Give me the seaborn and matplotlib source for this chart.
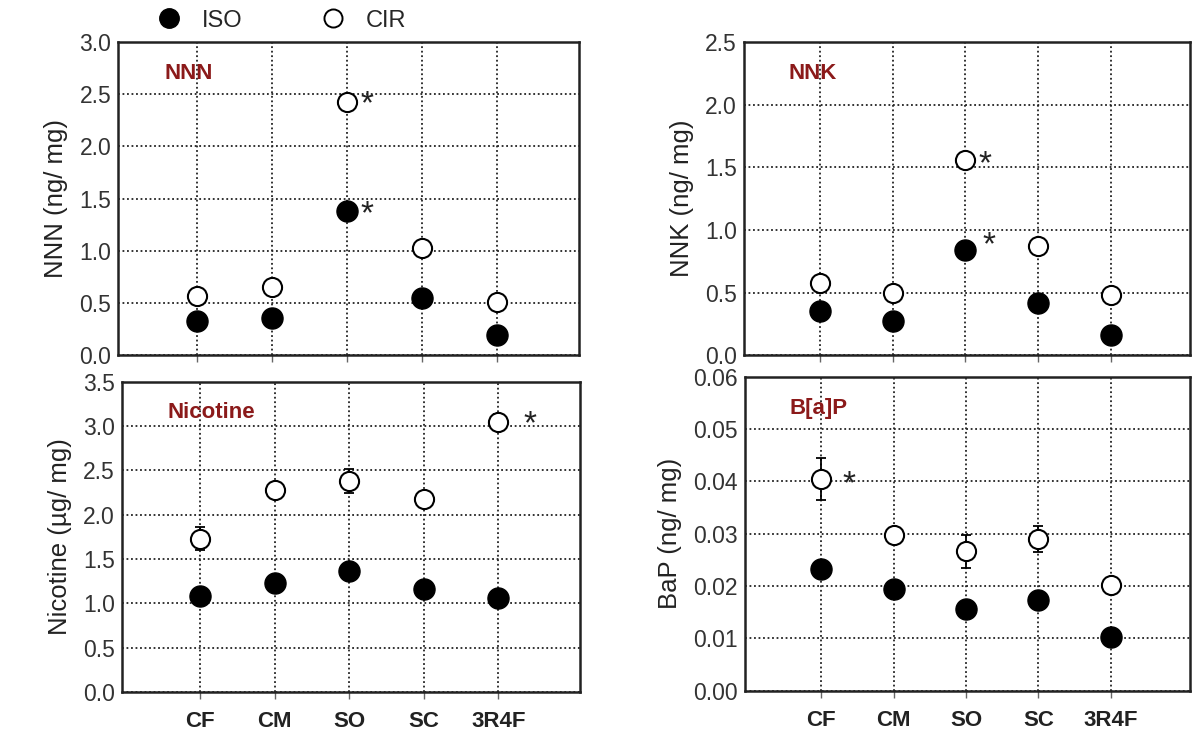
import numpy as np
import pandas as pd
import matplotlib
matplotlib.use("Agg")
import matplotlib.pyplot as plt
import seaborn as sns
from matplotlib.lines import Line2D

brands = ["CF", "CM", "SO", "SC", "3R4F"]

nnn_iso = [0.33, 0.36, 1.38, 0.55, 0.19]
nnn_cir = [0.57, 0.65, 2.43, 1.03, 0.51]
nnn_iso_err = [0.02, 0.02, 0.04, 0.03, 0.02]
nnn_cir_err = [0.03, 0.04, 0.05, 0.04, 0.03]

nnk_iso = [0.35, 0.27, 0.84, 0.42, 0.16]
nnk_cir = [0.58, 0.50, 1.56, 0.87, 0.48]
nnk_iso_err = [0.03, 0.02, 0.03, 0.03, 0.02]
nnk_cir_err = [0.04, 0.03, 0.05, 0.05, 0.03]

nic_iso = [1.08, 1.23, 1.37, 1.16, 1.06]
nic_cir = [1.73, 2.28, 2.38, 2.18, 3.05]
nic_iso_err = [0.04, 0.05, 0.04, 0.04, 0.04]
nic_cir_err = [0.13, 0.06, 0.14, 0.05, 0.09]

bap_iso = [0.0233, 0.0195, 0.0155, 0.0173, 0.0103]
bap_cir = [0.0405, 0.0298, 0.0266, 0.0289, 0.0201]
bap_iso_err = [0.0008, 0.0008, 0.0007, 0.0007, 0.0005]
bap_cir_err = [0.0040, 0.0012, 0.0032, 0.0025, 0.0006]

# (panel, ylabel, ylim, ticks, fmt, iso, cir, iso err, cir err, stars)
panels = [
    ("NNN", "NNN (ng/ mg)", (0, 3.0), np.arange(0, 3.01, 0.5), "{:.1f}",
     nnn_iso, nnn_cir, nnn_iso_err, nnn_cir_err,
     [(2.27, 1.35), (2.27, 2.40)]),
    ("NNK", "NNK (ng/ mg)", (0, 2.5), np.arange(0, 2.51, 0.5), "{:.1f}",
     nnk_iso, nnk_cir, nnk_iso_err, nnk_cir_err,
     [(2.33, 0.87), (2.27, 1.52)]),
    ("Nicotine", "Nicotine (µg/ mg)", (0, 3.5), np.arange(0, 3.51, 0.5), "{:.1f}",
     nic_iso, nic_cir, nic_iso_err, nic_cir_err,
     [(4.42, 3.01)]),
    ("B[a]P", "BaP (ng/ mg)", (0, 0.06), np.arange(0, 0.061, 0.01), "{:.2f}",
     bap_iso, bap_cir, bap_iso_err, bap_cir_err,
     [(0.38, 0.0393)]),
]

sns.set_style("ticks")
plt.rcParams["font.family"] = ["Liberation Sans", "DejaVu Sans"]

fig = plt.figure(figsize=(11.94, 7.37), dpi=100)
rects = [
    [0.099, 0.518, 0.386, 0.425],
    [0.623, 0.518, 0.374, 0.425],
    [0.102, 0.061, 0.384, 0.421],
    [0.624, 0.063, 0.373, 0.426],
]

for i, (name, ylab, ylim, ticks, fmt, iso, cir, iso_e, cir_e, stars) in enumerate(panels):
    ax = fig.add_axes(rects[i])
    df = pd.DataFrame({
        "pos": list(range(len(brands))) * 2,
        "value": iso + cir,
        "mode": ["ISO"] * 5 + ["CIR"] * 5,
    })
    x = np.arange(len(brands))
    ax.errorbar(x, cir, yerr=cir_e, fmt="none", ecolor="black",
                elinewidth=1.3, capsize=3.5, capthick=1.3, zorder=2)
    ax.errorbar(x, iso, yerr=iso_e, fmt="none", ecolor="black",
                elinewidth=1.3, capsize=3.5, capthick=1.3, zorder=2)
    sns.scatterplot(data=df[df["mode"] == "CIR"], x="pos", y="value", ax=ax,
                    color="white", edgecolor="black", linewidth=1.5,
                    s=190, zorder=3, legend=False)
    sns.scatterplot(data=df[df["mode"] == "ISO"], x="pos", y="value", ax=ax,
                    color="black", edgecolor="black", linewidth=1.0,
                    s=230, zorder=4, legend=False)
    for sx, sy in stars:
        ax.text(sx, sy, "*", fontsize=24, ha="center", va="center",
                color="#222222", zorder=5)

    ax.set_xlim(-1.05, 5.1)
    ax.set_ylim(*ylim)
    ax.set_yticks(ticks)
    ax.set_yticklabels([fmt.format(t) for t in ticks], fontsize=16.5,
                       color="#333333")
    ax.set_xticks(x)
    if i >= 2:
        ax.set_xticklabels(brands, fontsize=16, fontweight="bold",
                           color="#222222")
        ax.tick_params(axis="x", pad=9)
    else:
        ax.set_xticklabels([])
    ax.tick_params(axis="x", direction="out", length=5, width=1,
                   color="#666666")
    ax.tick_params(axis="y", length=0, pad=5)
    ax.set_xlabel("")
    ax.set_ylabel(ylab, fontsize=18.5, color="#222222", labelpad=8)
    ax.grid(True, linestyle=(0, (1.0, 1.5)), color="#222222", linewidth=1.3)
    ax.set_axisbelow(True)
    for sp in ax.spines.values():
        sp.set_linewidth(1.8)
        sp.set_color("#222222")
    ax.text(0.1, 0.9, name, transform=ax.transAxes, fontsize=16,
            fontweight="bold", color="#8b1a1a", ha="left", va="center")

handles = [
    Line2D([], [], marker="o", linestyle="none", markerfacecolor="black",
           markeredgecolor="black", markersize=14),
    Line2D([], [], marker="o", linestyle="none", markerfacecolor="white",
           markeredgecolor="black", markeredgewidth=1.4, markersize=13),
]
fig.legend(handles, ["ISO", "CIR"], loc="center left",
           bbox_to_anchor=(0.112, 0.972), ncol=2, frameon=False,
           fontsize=17, columnspacing=3.2, handletextpad=0.8,
           handlelength=1.2)

fig.savefig("out.png", dpi=100)
